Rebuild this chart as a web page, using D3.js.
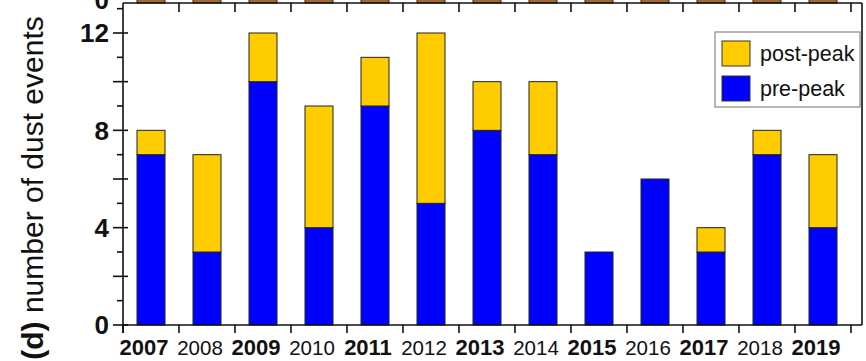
<!DOCTYPE html>
<html>
<head>
<meta charset="utf-8">
<script src="https://cdn.jsdelivr.net/npm/d3@7"></script>
<style>
  html, body { margin: 0; padding: 0; background: #fff; }
  svg { display: block; font-family: Arial, "Liberation Sans", Helvetica, sans-serif; }
</style>
</head>
<body>
<svg id="chart" width="866" height="361"></svg>
<script>
// Dust events per year, split into events before and after the peak
const years     = ["2007","2008","2009","2010","2011","2012","2013","2014","2015","2016","2017","2018","2019"];
const prePeak   = [7, 3, 10, 4, 9, 5, 8, 7, 3, 6, 3, 7, 4];
const postPeak  = [1, 4, 2, 5, 2, 7, 2, 3, 0, 0, 1, 1, 3];
const yTickLabels = [0, 4, 8, 12];
const seriesNames = ["post-peak", "pre-peak"];

const colors = { pre: "#0000ff", post: "#ffcc00", upper: "#a36a2f" };

const svg = d3.select("#chart");
const plot = { left: 123, right: 862, top: 3, bottom: 325, bandRight: 851 };

const x = d3.scaleBand()
  .domain(years)
  .range([plot.left, plot.bandRight])
  .paddingInner(0.5)
  .paddingOuter(0.25);

const y = d3.scaleLinear()
  .domain([0, 12 * (plot.bottom - plot.top) / 292])
  .range([plot.bottom, plot.top]);

const step = x.step();
const boundaries = d3.range(years.length + 1).map(i => plot.left + i * step);

// Bottom of the panel above (its bars continue past the top edge)
svg.append("g")
  .selectAll("rect")
  .data(years)
  .join("rect")
  .attr("x", d => x(d))
  .attr("y", -10)
  .attr("width", x.bandwidth())
  .attr("height", plot.top + 10)
  .attr("fill", colors.upper)
  .attr("stroke", "#222")
  .attr("stroke-width", 1);

svg.append("text")
  .attr("x", 109)
  .attr("y", 9)
  .attr("text-anchor", "end")
  .attr("font-size", 26)
  .attr("font-weight", "bold")
  .attr("fill", "#111")
  .text("0");

// Stacked bars
const rows = years.map((yr, i) => ({ year: yr, pre: prePeak[i], post: postPeak[i] }));
const bars = svg.append("g");
bars.selectAll("rect.pre")
  .data(rows)
  .join("rect")
  .attr("class", "pre")
  .attr("x", d => x(d.year))
  .attr("width", x.bandwidth())
  .attr("y", d => y(d.pre))
  .attr("height", d => y(0) - y(d.pre))
  .attr("fill", colors.pre)
  .attr("stroke", "#222")
  .attr("stroke-width", 1);
bars.selectAll("rect.post")
  .data(rows.filter(d => d.post > 0))
  .join("rect")
  .attr("class", "post")
  .attr("x", d => x(d.year))
  .attr("width", x.bandwidth())
  .attr("y", d => y(d.pre + d.post))
  .attr("height", d => y(d.pre) - y(d.pre + d.post))
  .attr("fill", colors.post)
  .attr("stroke", "#222")
  .attr("stroke-width", 1);

// Frame
const axisColor = "#111";
const frame = svg.append("g").attr("stroke", axisColor).attr("stroke-width", 1.6).attr("fill", "none");
frame.append("line").attr("x1", plot.left).attr("x2", plot.left).attr("y1", plot.top).attr("y2", plot.bottom + 8);
frame.append("line").attr("x1", plot.left).attr("x2", plot.right).attr("y1", plot.bottom).attr("y2", plot.bottom);
frame.append("line").attr("x1", plot.left).attr("x2", plot.right).attr("y1", plot.top).attr("y2", plot.top);
frame.append("line").attr("x1", plot.right).attr("x2", plot.right).attr("y1", plot.top).attr("y2", plot.bottom);

// Category boundary ticks, bottom (outward) and top (inward)
const tickG = svg.append("g").attr("stroke", axisColor).attr("stroke-width", 1.6);
tickG.selectAll("line.b")
  .data(boundaries)
  .join("line")
  .attr("class", "b")
  .attr("x1", d => d).attr("x2", d => d)
  .attr("y1", plot.bottom).attr("y2", plot.bottom + 8);
tickG.selectAll("line.t")
  .data(boundaries.slice(1))
  .join("line")
  .attr("class", "t")
  .attr("x1", d => d).attr("x2", d => d)
  .attr("y1", plot.top).attr("y2", plot.top + 9);

// Y ticks: major every 2 (crossing the axis), minor every 1 (outside)
const yValues = d3.range(0, 14);
tickG.selectAll("line.y")
  .data(yValues)
  .join("line")
  .attr("class", "y")
  .attr("x1", d => d % 2 === 0 ? plot.left - 10 : plot.left - 6)
  .attr("x2", d => d % 2 === 0 ? plot.left + 5 : plot.left)
  .attr("y1", d => y(d)).attr("y2", d => y(d));

svg.append("g")
  .selectAll("text")
  .data(yTickLabels)
  .join("text")
  .attr("x", 109)
  .attr("y", d => y(d))
  .attr("dy", "0.36em")
  .attr("text-anchor", "end")
  .attr("font-size", 26)
  .attr("font-weight", "bold")
  .attr("fill", "#111")
  .text(d => d);

// Year labels: odd years bold
svg.append("g")
  .selectAll("text")
  .data(years)
  .join("text")
  .attr("x", d => x(d) + x.bandwidth() / 2 - 7)
  .attr("y", 355)
  .attr("text-anchor", "middle")
  .attr("font-size", d => (+d) % 2 === 1 ? 22 : 20.5)
  .attr("font-weight", d => (+d) % 2 === 1 ? "bold" : "normal")
  .attr("fill", "#111")
  .text(d => d);

// Y axis title
const title = svg.append("text")
  .attr("transform", `translate(43, 188) rotate(-90)`)
  .attr("text-anchor", "middle")
  .attr("font-size", 30)
  .attr("fill", "#111");
title.append("tspan").attr("font-weight", "bold").text("(d)");
title.append("tspan").text(" number of dust events");

// Legend
const legend = svg.append("g");
legend.append("rect")
  .attr("x", 715).attr("y", 32)
  .attr("width", 145).attr("height", 75)
  .attr("fill", "#fff")
  .attr("stroke", "#888")
  .attr("stroke-width", 1.2);
const legendColors = [colors.post, colors.pre];
seriesNames.forEach((name, i) => {
  const yy = 41 + i * 35;
  legend.append("rect")
    .attr("x", 722).attr("y", yy)
    .attr("width", 28).attr("height", 25)
    .attr("fill", legendColors[i])
    .attr("stroke", "#333")
    .attr("stroke-width", 1);
  legend.append("text")
    .attr("x", 760).attr("y", yy + 12.5)
    .attr("dy", "0.35em")
    .attr("font-size", 21.5)
    .attr("fill", "#111")
    .text(name);
});
</script>
</body>
</html>
